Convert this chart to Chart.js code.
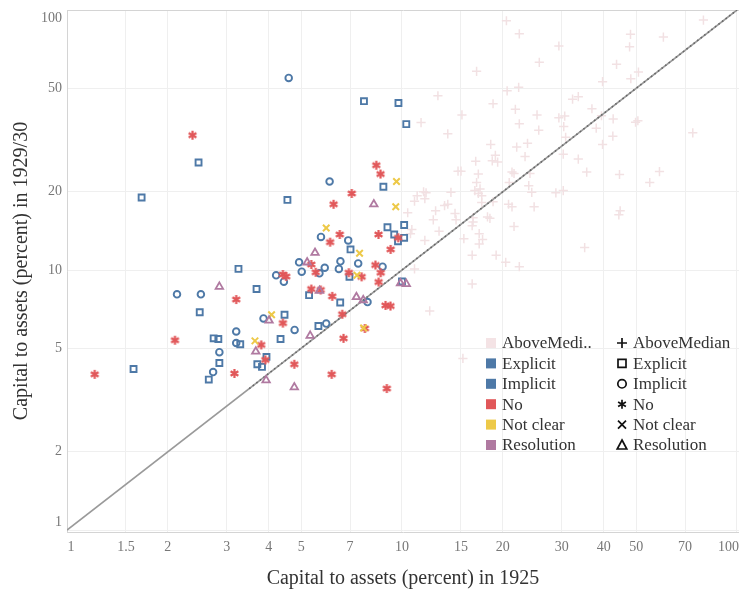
<!DOCTYPE html>
<html><head><meta charset="utf-8">
<script src="https://cdn.jsdelivr.net/npm/chart.js@4.4.0/dist/chart.umd.min.js"></script>
<style>html,body{margin:0;padding:0;background:#fff;}#wrap{width:739px;height:595px;}</style>
</head><body><div id="wrap"><canvas id="c" width="739" height="595"></canvas></div>
<script>
// ---- data ----
const xTicks = [1, 1.5, 2, 3, 4, 5, 7, 10, 15, 20, 30, 40, 50, 70, 100];
const yTicks = [1, 2, 5, 10, 20, 50, 100];
const xTitle = 'Capital to assets (percent) in 1925';
const yTitle = 'Capital to assets (percent) in 1929/30';
const categories = ['AboveMedian', 'Explicit', 'Implicit', 'No', 'Not clear', 'Resolution'];
const colorLegendLabels = ['AboveMedi..', 'Explicit', 'Implicit', 'No', 'Not clear', 'Resolution'];

const aboveMedian = [
[20.5,90.9],[79.4,91.5],[22.4,81.0],[48.1,80.6],[60.3,78.7],[29.4,72.7],[47.8,72.2],[25.7,62.9],[43.7,61.8],[16.7,58.1],
[50.8,57.7],[48.2,54.4],[39.7,53.0],[22.3,50.4],[20.6,48.9],[12.8,46.8],[32.3,45.4],[33.6,46.4],[18.7,43.6],[36.9,41.7],
[21.8,41.5],[15.1,39.5],[25.3,39.5],[29.4,38.5],[30.6,39.1],[39.4,39.2],[42.7,38.1],[49.8,37.0],[50.6,37.5],[11.4,36.9],
[22.4,36.5],[30.4,35.6],[38.0,35.1],[25.6,34.5],[13.7,33.4],[73.8,33.7],[42.6,32.7],[30.8,32.4],[18.4,30.4],[23.7,30.7],
[22.0,29.7],[39.7,30.4],[19.0,27.6],[18.6,26.3],[19.3,26.0],[23.3,27.3],[30.3,27.9],[16.6,26.2],[33.6,26.7],[14.7,24.0],
[15.0,24.0],[21.3,23.8],[21.6,23.5],[16.9,23.4],[24.1,23.5],[35.6,23.8],[44.6,23.3],[58.7,23.9],[16.7,21.7],[20.9,21.7],
[23.9,21.1],[54.9,21.7],[11.8,19.8],[11.6,20.0],[11.1,19.3],[14.0,19.9],[16.5,20.2],[17.1,20.5],[17.3,19.3],[16.9,19.7],
[24.4,19.9],[28.8,19.8],[30.3,20.2],[10.9,18.4],[11.7,18.8],[13.4,17.7],[13.7,17.9],[17.3,18.2],[18.7,18.3],[20.8,17.9],
[21.3,17.5],[10.4,16.6],[12.6,16.9],[14.4,16.5],[14.5,15.6],[16.3,15.9],[18.0,16.0],[18.3,15.8],[24.8,17.5],[44.4,16.3],
[44.8,16.9],[12.4,15.6],[10.7,14.3],[10.6,13.8],[12.9,14.1],[16.2,14.8],[16.3,15.3],[21.6,14.7],[17.0,13.8],[17.4,13.1],
[17.0,12.6],[11.7,13.0],[15.3,13.2],[35.1,12.2],[16.2,11.4],[19.1,11.4],[20.4,10.7],[22.4,10.3],[10.9,10.1],[16.2,8.84],
[12.1,6.96],[15.2,4.57]
];
const explicit = [
[1.67,19.0],[8.8,20.9],[4.55,18.6],[9.05,14.6],[9.48,13.7],[9.73,12.9],[7.02,12.0],[3.25,10.1],[6.97,9.42],[3.68,8.45],
[5.28,8.0],[6.54,7.5],[2.49,6.88],[4.46,6.73],[5.63,6.09],[2.74,5.46],[2.83,5.43],[4.34,5.43],[3.29,5.18],[3.94,4.63],
[2.85,4.39],[3.70,4.34],[3.82,4.24],[1.58,4.16],[2.65,3.79],[7.70,44.6],[9.76,43.9],[10.3,36.4],[2.47,25.9],[10.15,14.9],
[10.15,13.3],[10.0,9.03]
];
const implicit = [
[4.59,54.8],[6.08,21.9],[5.73,13.4],[6.91,13.0],[4.93,10.7],[6.55,10.8],[7.40,10.6],[8.75,10.3],[5.02,9.85],[5.88,10.2],
[6.48,10.1],[5.67,9.71],[4.21,9.54],[4.44,9.02],[2.13,8.06],[2.51,8.06],[7.89,7.53],[3.86,6.51],[5.94,6.22],[4.78,5.88],
[3.20,5.80],[3.20,5.24],[2.85,4.83],[2.73,4.05]
];
const no = [
[2.37,33.0],[8.38,25.3],[8.63,23.4],[7.08,19.7],[6.25,17.9],[6.52,13.7],[8.51,13.7],[9.74,13.3],[6.10,12.8],[9.25,12.0],
[5.36,10.5],[8.33,10.45],[5.53,9.8],[6.94,9.76],[8.64,9.76],[7.58,9.41],[4.41,9.61],[4.51,9.44],[8.52,8.99],[3.20,7.70],
[5.36,8.45],[5.72,8.38],[6.19,7.92],[8.93,7.31],[9.24,7.27],[6.63,6.76],[4.41,6.25],[7.75,5.96],[2.10,5.37],[3.80,5.15],
[6.69,5.46],[3.91,4.51],[4.77,4.34],[1.21,3.97],[3.16,4.0],[6.17,3.97],[9.01,3.50]
];
const notClear = [[9.63,21.9],[9.58,17.5],[5.94,14.5],[7.47,11.6],[7.34,9.54],[4.08,6.73],[7.68,5.98],[3.64,5.34]];
const resolution = [
[8.24,17.9],[5.50,11.65],[5.21,10.7],[2.85,8.63],[5.67,8.32],[7.31,7.87],[7.66,7.66],[9.90,8.89],[10.3,8.84],[4.01,6.39],
[5.32,5.59],[3.66,4.86],[3.93,3.77],[4.77,3.54]
];
const refLine = [[1,1],[100,100]];
const refLineDense = [[3.5,3.5],[100,100]];

// ---- styles ----
const FONT = "'Liberation Serif','Times New Roman',serif";
const colors = ['#f2e1e3', '#4e79a7', '#4e79a7', '#e15759', '#edc948', '#b07aa1'];
const swatchColors = ['#f4e3e5', '#4e79a7', '#4e79a7', '#e15759', '#edc948', '#b07aa1'];
const radii = [4.6, 4.2, 3.3, 4.3, 4.6, 4.3];
const widths = [1.5, 1.9, 1.9, 1.9, 2, 1.8];

function asteriskImage(color, size, lw) {
  const cv = document.createElement('canvas');
  cv.width = size; cv.height = size;
  const c = cv.getContext('2d');
  const m = size / 2, r = size / 2 - 1;
  c.strokeStyle = color; c.lineWidth = lw; c.lineCap = 'butt';
  c.beginPath();
  for (let k = 0; k < 3; k++) {
    const a = Math.PI / 2 + k * Math.PI / 3;
    c.moveTo(m + r * Math.cos(a), m + r * Math.sin(a));
    c.lineTo(m - r * Math.cos(a), m - r * Math.sin(a));
  }
  c.stroke();
  return cv;
}
const shapes = ['cross', 'rect', 'circle', asteriskImage('#e15759', 11, 2.2), 'crossRot', 'triangle'];
const legendShapes = ['cross', 'rect', 'circle', 'star', 'crossRot', 'triangle'];

const series = [aboveMedian, explicit, implicit, no, notClear, resolution];
const toPts = a => a.map(p => ({x: p[0], y: p[1]}));

const datasets = series.map((s, i) => ({
  type: 'scatter',
  label: categories[i],
  data: toPts(s),
  pointStyle: shapes[i],
  pointRadius: radii[i],
  pointBorderColor: colors[i],
  pointBackgroundColor: 'rgba(0,0,0,0)',
  pointBorderWidth: widths[i],
  order: i === 0 ? 20 : 10 - i
}));
datasets.push({type:'line', label:'ref', data: toPts(refLine), borderColor:'#9a9a9a', borderWidth:1.6, pointRadius:0, order: 15});
datasets.push({type:'line', label:'ref2', data: toPts(refLineDense), borderColor:'#666', borderWidth:1.6, borderDash:[1.5,3], pointRadius:0, order: 14});

const labelPlugin = {
  id: 'labels',
  afterDraw(chart) {
    const ctx = chart.ctx, xs = chart.scales.x, ys = chart.scales.y, ca = chart.chartArea;
    ctx.save();
    ctx.font = '14px ' + FONT;
    ctx.fillStyle = '#777';
    ctx.textBaseline = 'middle';
    ctx.textAlign = 'center';
    xTicks.forEach(v => {
      const t = String(v);
      const w = ctx.measureText(t).width;
      let px = xs.getPixelForValue(v);
      px = Math.max(ca.left + w / 2 + 0.5, Math.min(ca.right - w / 2, px));
      ctx.fillText(t, px, ca.bottom + 15);
    });
    ctx.textAlign = 'right';
    yTicks.forEach(v => {
      let py = ys.getPixelForValue(v);
      py = Math.max(ca.top + 8, Math.min(ca.bottom - 10, py));
      ctx.fillText(String(v), ca.left - 5, py);
    });
    // legend
    ctx.font = '17px ' + FONT;
    ctx.fillStyle = '#333';
    ctx.textAlign = 'left';
    const y0 = 343, dy = 20.4;
    colorLegendLabels.forEach((t, i) => {
      const y = y0 + i * dy;
      ctx.fillStyle = swatchColors[i];
      ctx.fillRect(486, y - 5, 10, 10);
      ctx.fillStyle = '#333';
      ctx.fillText(t, 502, y + 1);
    });
    categories.forEach((t, i) => {
      const y = y0 + i * dy;
      const cx = 622;
      ctx.strokeStyle = '#111';
      ctx.lineWidth = 1.7;
      ctx.beginPath();
      const s = legendShapes[i];
      if (s === 'cross') { ctx.moveTo(cx - 5, y); ctx.lineTo(cx + 5, y); ctx.moveTo(cx, y - 5); ctx.lineTo(cx, y + 5); }
      else if (s === 'rect') { ctx.rect(cx - 4, y - 4, 8, 8); }
      else if (s === 'circle') { ctx.arc(cx, y, 4.2, 0, Math.PI * 2); }
      else if (s === 'star') {
        for (let k = 0; k < 3; k++) { const a = Math.PI / 2 + k * Math.PI / 3; ctx.moveTo(cx + 4.5 * Math.cos(a), y + 4.5 * Math.sin(a)); ctx.lineTo(cx - 4.5 * Math.cos(a), y - 4.5 * Math.sin(a)); }
      }
      else if (s === 'crossRot') { ctx.moveTo(cx - 4, y - 4); ctx.lineTo(cx + 4, y + 4); ctx.moveTo(cx + 4, y - 4); ctx.lineTo(cx - 4, y + 4); }
      else if (s === 'triangle') { ctx.moveTo(cx, y - 5); ctx.lineTo(cx + 4.8, y + 4); ctx.lineTo(cx - 4.8, y + 4); ctx.closePath(); }
      ctx.stroke();
      ctx.fillStyle = '#333';
      ctx.fillText(t, 633, y + 1);
    });
    ctx.restore();
  }
};

const gridColor = '#efefef';
new Chart(document.getElementById('c'), {
  type: 'scatter',
  data: { datasets },
  options: {
    responsive: false,
    animation: false,
    events: [],
    layout: { autoPadding: false, padding: { top: 10, right: 0, left: 0, bottom: 0 } },
    plugins: { legend: { display: false }, tooltip: { enabled: false } },
    scales: {
      x: {
        type: 'logarithmic', position: 'bottom', min: 1, max: 101.4,
        afterBuildTicks: s => { s.ticks = xTicks.map(v => ({value: v})); },
        afterFit: s => { s.height = 63; s.paddingLeft = 0; s.paddingRight = 0; },
        ticks: { display: false },
        grid: { color: gridColor, drawTicks: false },
        border: { color: '#d4d4d4' },
        title: { display: true, text: xTitle, color: '#333', font: { family: FONT, size: 20 }, padding: { top: 0, bottom: 4 } }
      },
      y: {
        type: 'logarithmic', position: 'left', min: 0.9825, max: 100,
        afterBuildTicks: s => { s.ticks = yTicks.map(v => ({value: v})); },
        afterFit: s => { s.width = 67; s.paddingTop = 0; s.paddingBottom = 0; },
        ticks: { display: false },
        grid: { color: ctx => (ctx.tick && ctx.tick.value === 100) ? '#d4d4d4' : gridColor, drawTicks: false },
        border: { color: '#d4d4d4' },
        title: { display: true, text: yTitle, color: '#333', font: { family: FONT, size: 20 }, padding: { top: 10, bottom: 0 } }
      }
    }
  },
  plugins: [labelPlugin]
});
</script>
</body></html>
